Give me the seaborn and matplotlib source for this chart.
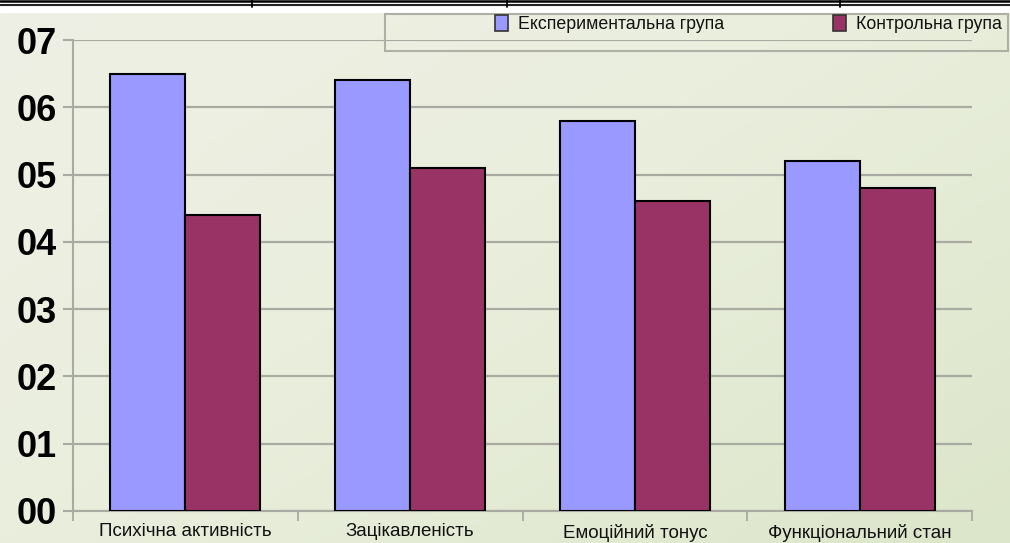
import numpy as np
import pandas as pd
import matplotlib
matplotlib.use("Agg")
import matplotlib.pyplot as plt
from matplotlib.patches import Rectangle
from matplotlib.lines import Line2D
from matplotlib.colors import LinearSegmentedColormap
import seaborn as sns

# Data
categories = ["Психічна активність", "Зацікавленість", "Емоційний тонус", "Функціональний стан"]
groups = ["Експериментальна група", "Контрольна група"]
experimental = [6.5, 6.4, 5.8, 5.2]
control = [4.4, 5.1, 4.6, 4.8]
y_ticks = [0, 1, 2, 3, 4, 5, 6, 7]
y_tick_labels = ["00", "01", "02", "03", "04", "05", "06", "07"]
colors = ["#9999FF", "#993366"]

df = pd.DataFrame({
    "category": categories * 2,
    "group": [groups[0]] * len(categories) + [groups[1]] * len(categories),
    "value": experimental + control,
})

sns.set_theme(style="white")
plt.rcParams["font.family"] = ["Liberation Sans", "DejaVu Sans"]

W, H = 1010, 543
fig = plt.figure(figsize=(W / 100, H / 100), dpi=100)
fig.patch.set_facecolor("white")

def fx(px):
    return px / W

def fy(py):
    return 1 - py / H

# Soft diagonal background wash below the header strip
bg = fig.add_axes([0, 0, 1, fy(13)], zorder=-10)
gx, gy = np.meshgrid(np.linspace(0, 1, 200), np.linspace(0, 1, 120))
grad = 0.55 * gx + 0.45 * gy
cmap = LinearSegmentedColormap.from_list("wash", ["#EFF0E5", "#E9EEDC", "#DCE6CA"])
bg.imshow(grad, cmap=cmap, aspect="auto", extent=[0, 1, 0, 1], origin="upper")
bg.axis("off")

# Header rule with column separators
fig.add_artist(Line2D([0, 1], [fy(1.2), fy(1.2)], color="black", lw=1.8))
fig.add_artist(Line2D([0, 1], [fy(4.5), fy(4.5)], color="#222222", lw=1.5))
for xs in [252, 507, 840]:
    fig.add_artist(Line2D([fx(xs), fx(xs)], [fy(0), fy(7)], color="black", lw=1.3))

ax = fig.add_axes([fx(73), fy(511), fx(972) - fx(73), fy(40) - fy(511)])
ax.set_facecolor("none")

sns.barplot(
    data=df, x="category", y="value", hue="group", order=categories,
    hue_order=groups, palette=colors, saturation=1, width=0.667, gap=0,
    edgecolor="black", linewidth=1.5, legend=False, ax=ax, zorder=3,
)

grid_color = "#A9AAA2"
ax.set_ylim(0, 7)
ax.set_xlim(-0.5, len(categories) - 0.5)
ax.set_yticks(y_ticks)
ax.set_yticklabels(y_tick_labels, fontsize=26, fontweight="bold", color="black")
ax.yaxis.grid(True, color=grid_color, lw=1.6, zorder=0)
ax.set_axisbelow(True)
ax.tick_params(axis="y", left=True, length=7.5, width=1.5, color=grid_color, pad=4)

ax.set_xticks(range(len(categories)))
ax.set_xticklabels(categories, fontsize=13.5, color="#111111")
ax.tick_params(axis="x", which="major", length=0, pad=9)
ax.set_xticks(np.arange(-0.5, len(categories), 1.0), minor=True)
ax.tick_params(axis="x", which="minor", bottom=True, length=7, width=1.3, color=grid_color)

for side in ["top", "right"]:
    ax.spines[side].set_visible(False)
for side in ["left", "bottom"]:
    ax.spines[side].set_color(grid_color)
    ax.spines[side].set_linewidth(1.5)
ax.set_xlabel("")
ax.set_ylabel("")

# Legend frame
fig.add_artist(Rectangle((fx(385), fy(51)), fx(1008) - fx(385), fy(14) - fy(51),
                         fill=False, edgecolor="#AEB0A6", lw=1.5))

handles = [Rectangle((0, 0), 1, 1, facecolor=c, edgecolor="#333333", lw=1.2) for c in colors]
leg_positions = [495, 833]
for h, lab, xp in zip(handles, groups, leg_positions):
    leg = fig.legend([h], [lab], loc="upper left", bbox_to_anchor=(fx(xp), fy(14.5)),
                     frameon=False, fontsize=12.8, borderpad=0, borderaxespad=0,
                     handlelength=0.75, handleheight=1.05, handletextpad=0.55)
    for t in leg.get_texts():
        t.set_color("#111111")

fig.savefig("out.png", dpi=100)
